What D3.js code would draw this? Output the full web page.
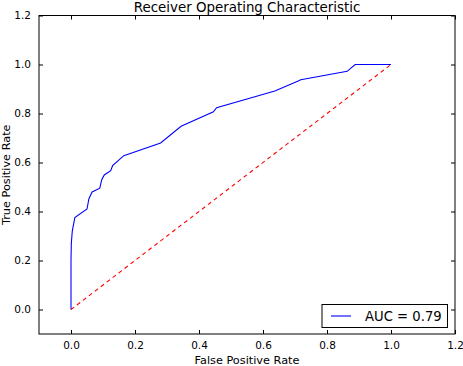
<!DOCTYPE html>
<html>
<head>
<meta charset="utf-8">
<script src="https://cdn.jsdelivr.net/npm/d3@7"></script>
<style>
  html, body { margin: 0; padding: 0; background: #fff; }
  svg { display: block; }
  text { font-family: "DejaVu Sans", sans-serif; fill: #000; }
</style>
</head>
<body>
<svg id="chart" width="463" height="366"></svg>
<script>
// ---- data ----
const fpr = [0.0, 0.0, 0.001, 0.004, 0.012, 0.05, 0.056, 0.066, 0.09, 0.096, 0.104, 0.124, 0.13, 0.165, 0.28, 0.344, 0.445, 0.455, 0.637, 0.71, 0.718, 0.863, 0.888, 1.0];
const tpr = [0.0, 0.2, 0.27, 0.32, 0.375, 0.41, 0.452, 0.48, 0.495, 0.53, 0.549, 0.567, 0.587, 0.628, 0.68, 0.748, 0.807, 0.824, 0.892, 0.933, 0.938, 0.972, 1.0, 1.0];
const chanceX = [0, 1];
const chanceY = [0, 1];
const xTicks = [0.0, 0.2, 0.4, 0.6, 0.8, 1.0, 1.2];
const yTicks = [0.0, 0.2, 0.4, 0.6, 0.8, 1.0, 1.2];
const title = "Receiver Operating Characteristic";
const xLabel = "False Positive Rate";
const yLabel = "True Positive Rate";
const legendLabel = "AUC = 0.79";

// ---- layout ----
const svg = d3.select("#chart");
const L = 39, R = 455, T = 15.5, B = 334;
const x = d3.scaleLinear().domain([-0.1, 1.2]).range([L, R]);
const y = d3.scaleLinear().domain([-0.1, 1.2]).range([B, T]);
const fmt = d3.format(".1f");

const tickLen = 4;
// axes (ticks inward, on all sides)
const axB = svg.append("g").attr("transform", `translate(0,${B})`)
  .call(d3.axisBottom(x).tickValues(xTicks).tickFormat(fmt).tickSizeInner(-tickLen).tickSizeOuter(0).tickPadding(8));
const axT = svg.append("g").attr("transform", `translate(0,${T})`)
  .call(d3.axisTop(x).tickValues(xTicks).tickFormat("").tickSizeInner(-tickLen).tickSizeOuter(0));
const axL = svg.append("g").attr("transform", `translate(${L},0)`)
  .call(d3.axisLeft(y).tickValues(yTicks).tickFormat(fmt).tickSizeInner(-tickLen).tickSizeOuter(0).tickPadding(8));
const axR = svg.append("g").attr("transform", `translate(${R},0)`)
  .call(d3.axisRight(y).tickValues(yTicks).tickFormat("").tickSizeInner(-tickLen).tickSizeOuter(0));
[axB, axT, axL, axR].forEach(g => {
  g.select(".domain").remove();
  g.selectAll(".tick line").attr("stroke", "#000").attr("stroke-width", 1);
  g.selectAll("text").style("font-family", "DejaVu Sans").style("font-size", "10.5px").attr("fill", "#000");
});

// curves
const clipId = "plotclip";
svg.append("clipPath").attr("id", clipId).append("rect")
  .attr("x", L).attr("y", T).attr("width", R - L).attr("height", B - T);

const line = d3.line().x(d => x(d[0])).y(d => y(d[1]));
svg.append("path")
  .datum(d3.zip(fpr, tpr))
  .attr("d", line)
  .attr("fill", "none").attr("stroke", "#0000ff").attr("stroke-width", 1.1)
  .attr("clip-path", `url(#${clipId})`);
svg.append("path")
  .datum(d3.zip(chanceX, chanceY))
  .attr("d", line)
  .attr("fill", "none").attr("stroke", "#ff0000").attr("stroke-width", 1.1)
  .attr("stroke-dasharray", "4,3.5")
  .attr("clip-path", `url(#${clipId})`);

// frame
svg.append("rect").attr("x", L).attr("y", T).attr("width", R - L).attr("height", B - T)
  .attr("fill", "none").attr("stroke", "#000").attr("stroke-width", 1);

// title and labels
svg.append("text").attr("x", (L + R) / 2).attr("y", 11.5).attr("text-anchor", "middle")
  .style("font-size", "13.4px").text(title);
svg.append("text").attr("x", (L + R) / 2).attr("y", 364).attr("text-anchor", "middle")
  .style("font-size", "11.3px").text(xLabel);
svg.append("text").attr("transform", `translate(9.5,${(T + B) / 2}) rotate(-90)`).attr("text-anchor", "middle")
  .style("font-size", "11.3px").text(yLabel);

// legend
const lg = svg.append("g");
lg.append("rect").attr("x", 322).attr("y", 304.5).attr("width", 125.5).attr("height", 23)
  .attr("fill", "#fff").attr("stroke", "#000").attr("stroke-width", 1);
lg.append("line").attr("x1", 331).attr("x2", 351).attr("y1", 316).attr("y2", 316)
  .attr("stroke", "#0000ff").attr("stroke-width", 1.1);
lg.append("text").attr("x", 365).attr("y", 320.5).style("font-size", "13.2px").text(legendLabel);
</script>
</body>
</html>
